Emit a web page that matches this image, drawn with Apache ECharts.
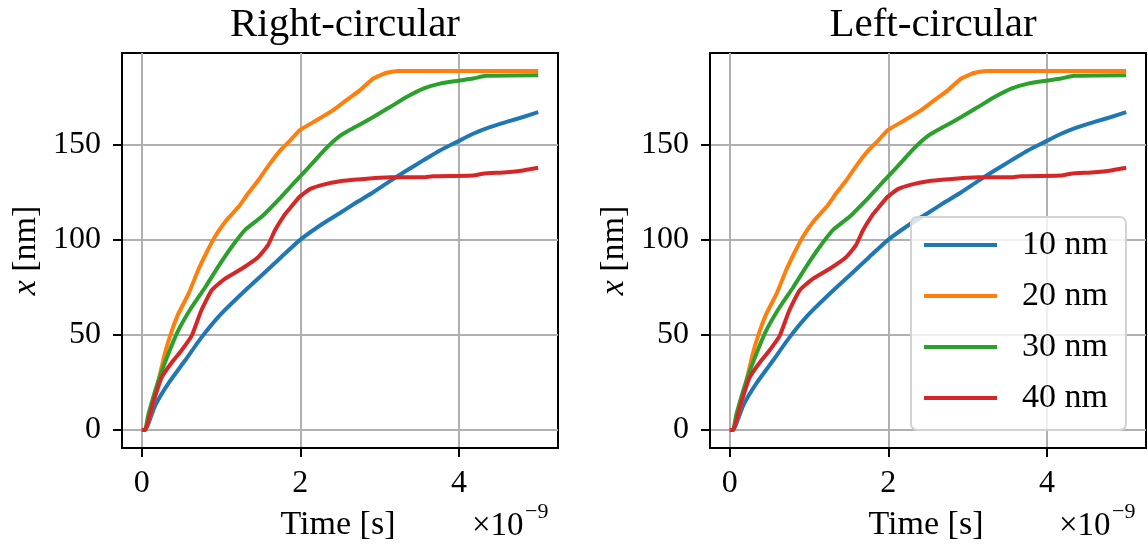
<!DOCTYPE html>
<html>
<head>
<meta charset="utf-8">
<script src="https://cdn.jsdelivr.net/npm/echarts@6/dist/echarts.min.js"></script>
<style>
  html, body { margin: 0; padding: 0; background: #fff; }
  #chart { width: 1148px; height: 549px; }
</style>
</head>
<body>
<div id="chart"></div>
<script>
// Displacement x [nm] against time (units of 1e-9 s) for four particle sizes.
const seriesNames = ['10 nm', '20 nm', '30 nm', '40 nm'];
const panelTitles = ['Right-circular', 'Left-circular'];
const xTicks = [0, 2, 4];
const yTicks = [0, 50, 100, 150];

const t10 = [0, 0.04, 0.17, 0.335, 0.545, 0.755, 1.0, 1.26, 1.51, 1.76, 2.0, 2.29, 2.5, 2.71, 2.92, 3.13, 3.34, 3.55, 3.76, 3.97, 4.18, 4.39, 4.6, 4.81, 5.0];
const x10 = [0, 0, 13, 24.5, 36.5, 48.8, 61, 71.6, 81.2, 90.9, 100, 108.6, 114, 119.6, 124.9, 130.7, 136.3, 141.6, 146.8, 151.2, 155.6, 159.1, 161.8, 164.4, 167];

const t20 = [0, 0.04, 0.17, 0.29, 0.38, 0.46, 0.59, 0.71, 0.82, 0.92, 1.05, 1.22, 1.34, 1.47, 1.6, 1.75, 1.87, 1.99, 2.2, 2.41, 2.58, 2.75, 2.92, 3.08, 3.23, 5.0];
const x20 = [0, 0, 19, 40, 52.3, 61, 71.6, 83.9, 93.5, 101.4, 109.3, 117.2, 124.2, 131.2, 139, 147, 152, 157.4, 162.6, 167.9, 173.2, 178.4, 184.6, 187.5, 188.6, 188.6];

const t30 = [0, 0.04, 0.084, 0.21, 0.335, 0.46, 0.63, 0.8, 0.96, 1.13, 1.3, 1.51, 1.76, 1.87, 2.0, 2.15, 2.29, 2.4, 2.5, 2.6, 2.71, 2.92, 3.13, 3.34, 3.55, 3.76, 3.97, 4.18, 4.34, 5.0];
const x30 = [0, 0, 8.4, 26, 40, 52.3, 64.6, 75, 85.6, 96, 105, 112, 122.5, 127.5, 133.3, 140, 146.5, 151, 154.5, 157, 159.5, 164.4, 169.6, 174.9, 179.3, 181.9, 183.3, 184.6, 186, 186.3];

const t40 = [0, 0.04, 0.15, 0.25, 0.38, 0.5, 0.63, 0.75, 0.88, 1.05, 1.26, 1.47, 1.59, 1.68, 1.8, 1.87, 1.99, 2.12, 2.29, 2.5, 2.71, 3.13, 3.55, 3.67, 4.18, 4.3, 4.6, 4.81, 5.0];
const x40 = [0, 0, 15.4, 27.7, 35.6, 41.8, 49.6, 62.8, 73.3, 79.5, 84.7, 90.9, 97, 104.9, 113, 116.5, 122.5, 126.5, 128.9, 130.7, 131.6, 132.8, 132.8, 133.3, 133.7, 134.6, 135.4, 136.3, 137.7];

const times = [t10, t20, t30, t40];
const values = [x10, x20, x30, x40];
const colors = ['#1f77b4', '#ff7f0e', '#2ca02c', '#d62728'];

const SERIF = '"Liberation Serif", "Times New Roman", serif';
const gridLefts = [122, 710];

const grids = gridLefts.map(l => ({
  left: l, top: 53, width: 436, height: 395,
  show: true, borderColor: '#000', borderWidth: 2, backgroundColor: 'transparent'
}));

const xAxes = gridLefts.map((l, i) => ({
  type: 'value', gridIndex: i, min: -0.25, max: 5.25,
  name: 'Time [s]', nameLocation: 'middle', nameGap: 60,
  nameTextStyle: { fontFamily: SERIF, fontSize: 34, color: '#000', padding: [0, 4, 0, 0] },
  axisLine: { show: true, onZero: false, lineStyle: { color: '#000', width: 2 } },
  axisTick: { show: true, length: 9, customValues: xTicks, lineStyle: { color: '#000', width: 2 } },
  axisLabel: { customValues: xTicks, margin: 20, fontFamily: SERIF, fontSize: 32, color: '#000' },
  splitLine: { show: true, lineStyle: { color: '#b0b0b0', width: 2 } }
}));

const yAxes = gridLefts.map((l, i) => ({
  type: 'value', gridIndex: i, min: -9.43, max: 198,
  name: '{i|x} [nm]', nameLocation: 'middle', nameGap: 79, nameRotate: 90,
  nameTextStyle: {
    fontFamily: SERIF, fontSize: 34, color: '#000',
    rich: { i: { fontFamily: SERIF, fontSize: 34, fontStyle: 'italic', color: '#000' } }
  },
  axisLine: { show: true, onZero: false, lineStyle: { color: '#000', width: 2 } },
  axisTick: { show: true, length: 9, customValues: yTicks, lineStyle: { color: '#000', width: 2 } },
  axisLabel: { customValues: yTicks, margin: 21, fontFamily: SERIF, fontSize: 32, color: '#000' },
  splitLine: { show: true, lineStyle: { color: '#b0b0b0', width: 2 } }
}));

const series = [];
gridLefts.forEach((l, g) => {
  seriesNames.forEach((name, k) => {
    series.push({
      type: 'line', name: name, xAxisIndex: g, yAxisIndex: g,
      data: times[k].map((t, j) => [t, values[k][j]]),
      symbol: 'none', smooth: 0.15,
      lineStyle: { color: colors[k], width: 4 }, itemStyle: { color: colors[k] },
      z: 3 + k, silent: true
    });
  });
});

// power-of-ten offset labels under the right end of each x axis
const offsetLabels = [];
[472, 1059].forEach(x0 => {
  offsetLabels.push({
    type: 'text', left: x0, top: 510, silent: true,
    style: { text: '\u00d710', font: '33px ' + SERIF, fill: '#000' }
  });
  offsetLabels.push({
    type: 'text', left: x0 + 53, top: 501, silent: true,
    style: { text: '\u22129', font: '22px ' + SERIF, fill: '#000' }
  });
});

const chart = echarts.init(document.getElementById('chart'), null, { renderer: 'canvas' });
chart.setOption({
  animation: false,
  backgroundColor: '#fff',
  title: panelTitles.map((txt, i) => ({
    text: txt, left: gridLefts[i] + 218, top: 0, textAlign: 'center',
    textStyle: { fontFamily: SERIF, fontSize: 41, fontWeight: 'normal', color: '#000' }
  })),
  legend: {
    data: seriesNames.map(n => ({ name: n, icon: 'rect' })),
    orient: 'vertical', left: 911, top: 217,
    padding: [11, 18, 15, 13], itemGap: 17, itemWidth: 73, itemHeight: 4,
    backgroundColor: 'rgba(255,255,255,0.8)', borderColor: '#d3d3d3', borderWidth: 2, borderRadius: 6,
    textStyle: { fontFamily: SERIF, fontSize: 34, lineHeight: 34, color: '#000', padding: [0, 0, 0, 20] },
    selectedMode: false
  },
  grid: grids,
  xAxis: xAxes,
  yAxis: yAxes,
  series: series,
  graphic: offsetLabels
});
</script>
</body>
</html>
